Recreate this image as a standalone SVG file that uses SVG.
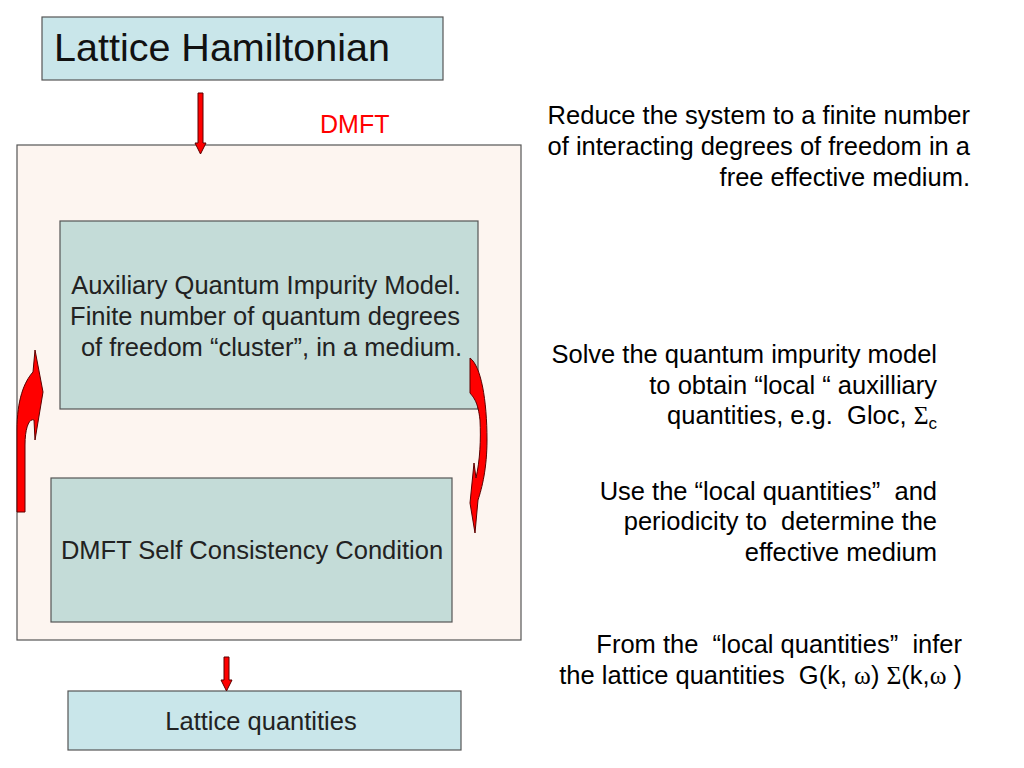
<svg xmlns="http://www.w3.org/2000/svg" width="1024" height="768" viewBox="0 0 1024 768">
<style>
.box{stroke:#555;stroke-width:1.2}
.t{font-family:"Liberation Sans",Arial,sans-serif;font-size:25.5px;fill:#000;white-space:pre}
.n{font-family:"Liberation Sans",Arial,sans-serif;font-size:25.5px;fill:#222;white-space:pre}
.s{font-family:"Liberation Serif","Times New Roman",serif}
.arr{fill:#ff0000;stroke:#5a0000;stroke-width:1}
</style>
<rect width="1024" height="768" fill="#ffffff"/>
<g id="outer">
<rect class="box" x="17" y="145" width="504" height="495" fill="#fdf5f0"/>
</g>
<g id="lattice-hamiltonian">
<rect class="box" x="42" y="17" width="401" height="63" fill="#c9e6ea"/>
<text x="54" y="61" style="font-family:'Liberation Sans',Arial,sans-serif;font-size:39.5px;fill:#111">Lattice Hamiltonian</text>
</g>
<g id="dmft-label">
<text x="320" y="133" style="font-family:'Liberation Sans',Arial,sans-serif;font-size:25px;fill:#ff0000">DMFT</text>
</g>
<g id="aux-model">
<rect class="box" x="60" y="221" width="418" height="188" fill="#c4dcd8"/>
<text class="n" text-anchor="middle" x="266" y="294">Auxiliary Quantum Impurity Model.</text>
<text class="n" text-anchor="middle" x="265" y="325">Finite number of quantum degrees</text>
<text class="n" text-anchor="middle" x="268" y="356"> of freedom “cluster”, in a medium.</text>
</g>
<g id="self-consistency">
<rect class="box" x="51" y="478" width="401" height="144" fill="#c4dcd8"/>
<text class="n" text-anchor="middle" x="252" y="559">DMFT Self Consistency Condition</text>
</g>
<g id="lattice-quantities">
<rect class="box" x="68" y="691" width="393" height="59" fill="#c9e6ea"/>
<text class="n" text-anchor="middle" x="261" y="730">Lattice quantities</text>
</g>
<g id="connectors">
<path class="arr" d="M198,93 L203,93 L203,143 L206,143 L200.5,154 L195,143 L198,143 Z"/>
<path class="arr" d="M224,657 L229,657 L229,680 L232,680 L226.5,691 L221,680 L224,680 Z"/>
<path class="arr" d="M17,512 L17,430 C17,400 24,382 33,372 L35,350 L43,392 L35,440 L34,420 C29,418 25,428 25,445 L25,512 Z"/>
<path class="arr" d="M470,358 C481,366 487,400 487,440 C487,468 482,488 478,500 L475,533 L470,503 L474,463 L476,478 C480,460 481,440 480,420 C478,402 474,398 470,393 Z"/>
</g>
<g id="notes">
<text class="t" text-anchor="end" x="970" y="124">Reduce the system to a finite number</text>
<text class="t" text-anchor="end" x="970" y="155">of interacting degrees of freedom in a</text>
<text class="t" text-anchor="end" x="970" y="186">free effective medium.</text>
<text class="t" text-anchor="end" x="937" y="363">Solve the quantum impurity model</text>
<text class="t" text-anchor="end" x="937" y="394">to obtain “local “ auxilliary</text>
<text class="t" text-anchor="end" x="937" y="424">quantities, e.g.  Gloc, <tspan class="s">Σ</tspan><tspan font-size="17" dy="5">c</tspan></text>
<text class="t" text-anchor="end" x="937" y="500">Use the “local quantities”  and</text>
<text class="t" text-anchor="end" x="937" y="530">periodicity to  determine the</text>
<text class="t" text-anchor="end" x="937" y="561">effective medium</text>
<text class="t" text-anchor="end" x="962" y="653">From the  “local quantities”  infer</text>
<text class="t" text-anchor="end" x="962" y="684">the lattice quantities  G(k, <tspan class="s">ω</tspan>) <tspan class="s">Σ</tspan>(k,<tspan class="s">ω</tspan> )</text>
</g>
</svg>
